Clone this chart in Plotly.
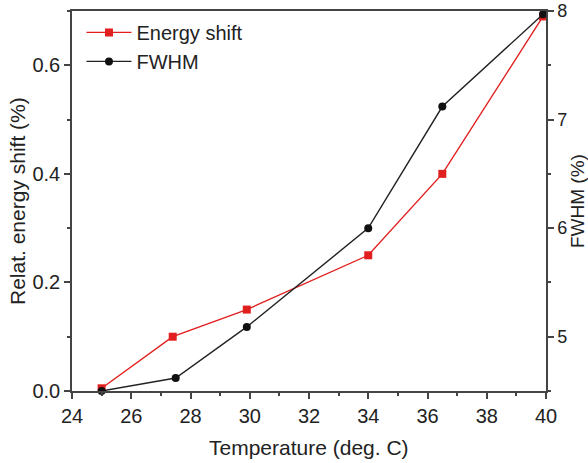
import plotly.graph_objects as go

# Temperature (deg. C) and measured quantities
temp_energy = [25.0, 27.4, 29.9, 34.0, 36.5, 39.9]
energy_shift = [0.005, 0.10, 0.15, 0.25, 0.40, 0.69]

temp_fwhm = [25.0, 27.5, 29.9, 34.0, 36.5, 39.9]
fwhm = [4.50, 4.62, 5.09, 6.00, 7.12, 7.97]

x_ticks = [24, 26, 28, 30, 32, 34, 36, 38, 40]
left_ticks = [0.0, 0.2, 0.4, 0.6]
right_ticks = [5, 6, 7, 8]

RED = "#e21f1f"
DARK = "#222222"
AXIS = "#444444"
FONT = "Liberation Sans, Arial, sans-serif"
TICK_FONT = dict(size=20, color=DARK, family=FONT)
RIGHT_TICK_FONT = dict(size=18, color=DARK, family=FONT)
TITLE_FONT = dict(size=21, color=DARK, family=FONT)
RIGHT_TITLE_FONT = dict(size=19, color=DARK, family=FONT)

fig = go.Figure()
fig.add_trace(go.Scatter(
    x=temp_energy, y=energy_shift, name="Energy shift",
    mode="lines+markers",
    line=dict(color=RED, width=1.4),
    marker=dict(symbol="square", size=8, color=RED),
    yaxis="y", cliponaxis=False,
))
fig.add_trace(go.Scatter(
    x=temp_fwhm, y=fwhm, name="FWHM",
    mode="lines+markers",
    line=dict(color=DARK, width=1.4),
    marker=dict(symbol="circle", size=8, color="#111111"),
    yaxis="y2", cliponaxis=False,
))


def axis_style(font):
    return dict(
        showgrid=False, zeroline=False, showline=True, linecolor=AXIS, linewidth=1.5,
        ticks="outside", ticklen=6, tickwidth=1.5, tickcolor=AXIS,
        tickfont=font, automargin=False,
    )


def minor_ticks(step, start):
    return dict(dtick=step, tick0=start, ticks="outside", ticklen=3, tickwidth=1.5, tickcolor=AXIS)


fig.update_layout(
    width=588, height=463,
    margin=dict(l=72, r=42, t=11, b=72),
    paper_bgcolor="white", plot_bgcolor="white",
    font=dict(family=FONT, color=DARK),
    showlegend=True,
    legend=dict(
        x=0.02, y=0.995, xanchor="left", yanchor="top",
        bgcolor="rgba(0,0,0,0)", font=dict(size=20, color=DARK, family=FONT),
        itemwidth=45, tracegroupgap=0,
    ),
    xaxis=dict(
        **axis_style(TICK_FONT), range=[24, 40], tickvals=x_ticks, mirror=True,
        minor=minor_ticks(1, 24),
    ),
    yaxis=dict(
        **axis_style(TICK_FONT), range=[0, 0.7], tickvals=left_ticks, tickformat=".1f",
        minor=minor_ticks(0.1, 0),
    ),
    yaxis2=dict(
        **axis_style(RIGHT_TICK_FONT), range=[4.5, 8], tickvals=right_ticks,
        overlaying="y", side="right",
        minor=minor_ticks(0.5, 4.5),
    ),
)

# Axis titles
fig.add_annotation(text="Temperature (deg. C)", xref="paper", yref="paper", x=0.5, y=0,
                   xanchor="center", yanchor="middle", yshift=-56, showarrow=False, font=TITLE_FONT)
fig.add_annotation(text="Relat. energy shift (%)", xref="paper", yref="paper", x=0, y=0.5,
                   xanchor="center", yanchor="middle", xshift=-55, textangle=-90,
                   showarrow=False, font=TITLE_FONT)
fig.add_annotation(text="FWHM (%)", xref="paper", yref="paper", x=1, y=0.5,
                   xanchor="center", yanchor="middle", xshift=31, textangle=-90,
                   showarrow=False, font=RIGHT_TITLE_FONT)

fig.write_html("out.html")
